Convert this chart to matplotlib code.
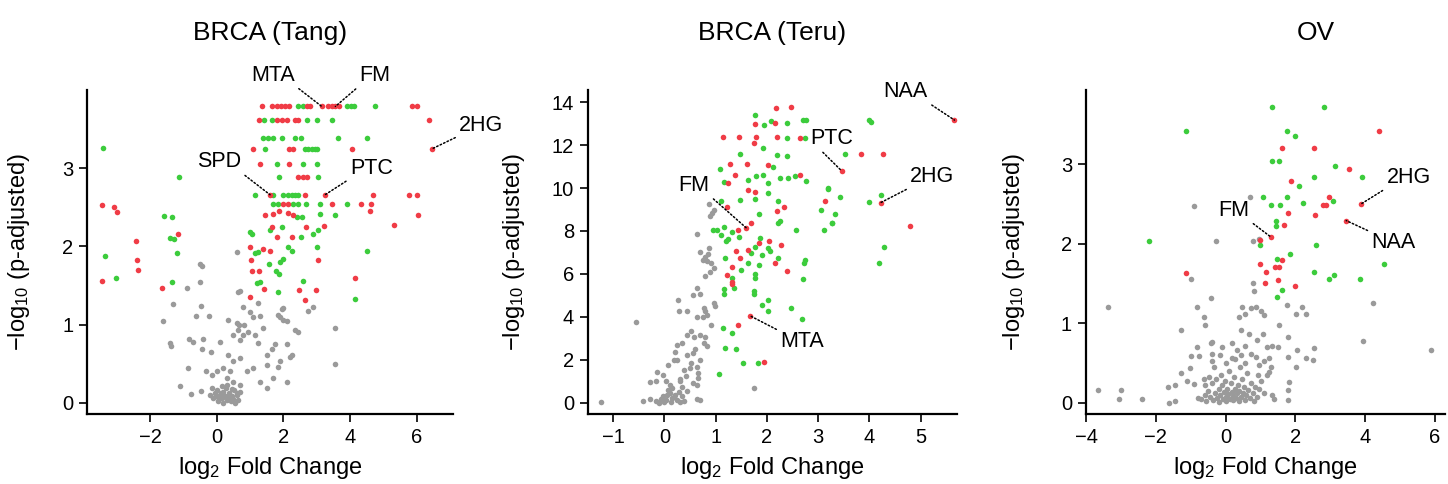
import matplotlib
matplotlib.use("Agg")
import matplotlib.pyplot as plt
import numpy as np

plt.rcParams['font.family'] = ['Liberation Sans', 'DejaVu Sans']
plt.rcParams['mathtext.fontset'] = 'custom'
plt.rcParams['mathtext.rm'] = 'Liberation Sans'
plt.rcParams['mathtext.it'] = 'Liberation Sans:italic'

RED = '#f03c46'
GREEN = '#3ccc3c'
GREY = '#9a9a9a'

# ---------------- BRCA (Tang) ----------------
tang_grey = [(-0.5, 1.78), (-0.45, 1.75), (0.6, 1.93), (-0.5, 1.54), (-0.9, 1.47), (0.65, 1.41), (0.7, 1.43),
             (-1.3, 1.26), (-0.48, 1.24), (0.8, 1.23), (1.0, 1.16), (1.25, 1.27), (-1.62, 1.05), (-0.62, 1.11),
             (-0.22, 1.11), (0.35, 1.06), (0.68, 1.0), (0.82, 1.0), (1.1, 1.1), (1.3, 1.11), (1.85, 1.12),
             (2.0, 1.21), (2.1, 1.04), (2.35, 0.93), (-1.4, 0.76), (-1.38, 0.73), (-0.82, 0.82), (-0.7, 0.77),
             (-0.4, 0.82), (-0.18, 0.65), (-0.45, 0.69), (0.1, 0.78), (0.48, 0.86), (0.65, 0.93), (0.7, 0.8),
             (0.8, 0.87), (0.95, 0.91), (1.15, 0.87), (1.25, 0.76), (1.4, 0.95), (1.5, 0.61), (1.65, 0.69),
             (1.75, 0.75), (2.1, 0.75), (2.25, 0.61), (1.9, 0.53), (1.5, 0.48), (0.35, 0.61), (0.5, 0.53),
             (0.7, 0.57), (0.9, 0.4), (1.1, 0.44), (0.2, 0.44), (0.4, 0.4), (0.0, 0.4), (-0.15, 0.36),
             (-0.85, 0.44), (-0.32, 0.41), (1.3, 0.27), (1.7, 0.31), (2.1, 0.27), (1.5, 0.19), (-1.1, 0.21),
             (-0.77, 0.11), (-0.47, 0.15), (0.3, 0.31), (0.5, 0.27), (0.7, 0.23), (0.3, 0.23),
             (-0.15, 0.19), (-0.05, 0.12), (0.02, 0.16), (0.1, 0.1), (0.15, 0.06), (0.2, 0.14), (0.25, 0.08),
             (0.32, 0.04), (0.38, 0.12), (0.45, 0.08), (0.52, 0.16), (0.6, 0.1), (0.65, 0.04), (-0.1, 0.06),
             (0.05, 0.02), (0.2, 0.0), (0.42, 0.02), (0.55, 0.0), (-0.2, 0.1), (-0.02, 0.08), (0.28, 0.19),
             (0.15, 0.21), (0.7, 0.14), (0.08, 0.05), (0.35, 0.07), (0.5, 0.05), (0.12, 0.13),
             (3.55, 0.95), (3.55, 0.5), (2.75, 1.17), (2.9, 1.23), (1.95, 1.2), (1.9, 1.1), (2.0, 1.06),
             (2.45, 0.9), (2.2, 0.59), (1.85, 0.46), (0.6, 1.02), (0.45, 0.18), (0.6, 0.12)]
tang_green = [(-3.42, 3.26), (-3.34, 1.88), (-3.02, 1.6), (-1.12, 2.89), (-1.58, 2.39), (-1.34, 2.37),
              (-1.4, 2.11), (-1.28, 2.1), (-1.2, 1.92), (-1.35, 1.54),
              (2.45, 3.79), (2.58, 3.79), (3.9, 3.79), (4.02, 3.79), (4.12, 3.79), (4.75, 3.79),
              (1.42, 3.62), (1.65, 3.62), (2.7, 3.62), (3.0, 3.62), (3.45, 3.62),
              (1.4, 3.39), (1.55, 3.39), (1.7, 3.39), (1.95, 3.39), (2.35, 3.39), (2.52, 3.39), (3.65, 3.39),
              (4.52, 3.39),
              (1.45, 3.25), (2.65, 3.25), (2.75, 3.25), (2.85, 3.25), (2.95, 3.25), (3.02, 3.25),
              (1.8, 3.05), (2.6, 3.05), (3.02, 3.05), (1.88, 2.89), (3.05, 2.89),
              (1.15, 2.66), (1.7, 2.66), (2.0, 2.66), (2.15, 2.66), (2.25, 2.66), (2.35, 2.66), (2.45, 2.66),
              (1.7, 2.54), (1.85, 2.54), (2.3, 2.54), (2.45, 2.54), (2.68, 2.54), (3.1, 2.54), (3.9, 2.54),
              (2.4, 2.38), (2.55, 2.38), (3.1, 2.42), (3.55, 2.4), (1.05, 2.16), (1.6, 2.21), (1.95, 2.25),
              (2.9, 2.16), (3.05, 2.21), (2.52, 2.12), (1.15, 1.92), (1.25, 1.93), (2.15, 1.99), (2.25, 1.94),
              (3.0, 1.99), (4.5, 1.94), (1.58, 1.77), (1.78, 1.69), (1.9, 1.8), (1.98, 1.84), (1.88, 1.65),
              (1.2, 1.53), (1.3, 1.55), (1.85, 1.42), (2.6, 1.56), (4.15, 1.33), (1.0, 2.18)]
tang_red = [(-3.45, 2.53), (-3.07, 2.5), (-3.0, 2.44), (-2.42, 2.07), (-2.4, 1.82), (-2.35, 1.7),
            (-3.43, 1.56), (-1.15, 2.16), (-1.65, 1.47),
            (1.37, 3.79), (1.65, 3.79), (1.8, 3.79), (1.92, 3.79), (2.05, 3.79), (2.18, 3.79), (2.7, 3.79),
            (2.8, 3.79), (3.15, 3.79), (3.33, 3.79), (3.45, 3.79), (3.56, 3.79), (3.68, 3.79), (5.86, 3.79),
            (6.0, 3.79),
            (1.27, 3.62), (1.8, 3.62), (1.95, 3.62), (2.1, 3.62), (2.35, 3.62), (2.45, 3.62), (6.36, 3.62),
            (1.1, 3.25), (2.18, 3.25), (2.3, 3.25), (4.05, 3.25), (6.47, 3.25),
            (1.3, 3.05), (2.18, 3.05), (2.45, 2.89), (2.58, 2.89), (2.7, 2.89),
            (1.6, 2.66), (2.65, 2.66), (3.25, 2.66), (4.7, 2.66), (5.78, 2.66), (6.0, 2.66),
            (2.0, 2.54), (2.15, 2.54), (3.45, 2.54), (4.32, 2.54), (4.62, 2.54),
            (1.45, 2.4), (1.7, 2.42), (1.88, 2.45), (2.15, 2.43), (2.3, 2.4), (6.05, 2.4), (5.33, 2.27),
            (4.6, 2.45), (1.65, 2.25), (2.68, 2.25), (3.23, 2.26), (1.8, 2.12), (2.27, 2.12), (1.0, 1.99),
            (1.38, 1.96), (1.6, 1.94), (1.02, 1.82), (1.05, 1.69), (1.28, 1.69), (3.03, 1.82), (1.42, 1.46),
            (2.48, 1.44), (2.98, 1.44), (4.15, 1.6), (2.65, 1.32), (1.0, 1.35)]
# (label, point, text position, anchor of the leader on the text box)
tang_labels = [('MTA', (3.15, 3.79), (1.69, 4.19), (1, 0)),
               ('FM', (3.56, 3.79), (4.75, 4.19), (0, 0)),
               ('2HG', (6.47, 3.25), (7.94, 3.55), (0, 0)),
               ('SPD', (1.6, 2.66), (0.07, 3.08), (1, 0)),
               ('PTC', (3.25, 2.66), (4.64, 3.0), (0, 0))]

# ---------------- BRCA (Teru) ----------------
teru_grey = [(0.89, 8.72), (0.97, 8.98), (0.92, 8.85), (0.87, 9.26), (0.63, 7.85), (0.87, 7.2), (0.8, 6.81),
             (0.75, 6.65), (0.83, 6.61), (0.9, 6.5), (0.96, 6.27), (0.89, 6.11), (0.8, 5.92), (0.63, 5.33),
             (0.56, 5.02), (0.7, 5.05), (0.77, 4.4), (0.8, 4.25), (0.75, 4.01), (0.83, 4.09), (0.97, 4.64),
             (0.98, 4.5), (0.45, 4.28), (0.28, 4.28), (0.63, 3.97), (0.9, 3.63), (0.52, 3.32), (0.45, 3.16),
             (0.57, 3.08), (0.7, 3.16), (0.8, 3.08), (0.77, 2.77), (0.83, 2.62), (0.24, 2.69), (0.35, 2.77),
             (0.21, 2.38), (0.56, 2.31), (0.45, 2.23), (0.18, 1.99), (0.24, 1.99), (0.52, 1.84), (0.63, 1.68),
             (0.07, 1.76), (0.66, 1.37), (0.66, 1.14), (-0.14, 1.45), (-0.03, 1.3), (0.38, 1.5), (0.42, 1.22),
             (-0.28, 0.96), (-0.17, 1.02), (0.04, 0.99), (0.11, 0.83), (0.14, 0.68), (0.07, 0.6), (0.31, 0.99),
             (0.35, 0.75), (0.63, 0.83), (-0.41, 0.09), (-0.28, 0.18), (-0.17, 0.06), (-0.03, 0.29),
             (0.04, 0.13), (0.21, 0.37), (0.24, 0.13), (0.35, 0.29), (0.38, 0.09), (-0.1, 0.0), (0.0, 0.03),
             (0.63, 0.18), (1.74, 0.68), (-0.55, 3.78), (-1.23, 0.02), (0.7, 7.04), (0.85, 6.95), (0.26, 4.79),
             (0.1, 0.45), (0.15, 0.2), (0.28, 0.5), (0.05, 0.35), (-0.06, 0.15), (0.12, 0.05), (0.3, 0.02),
             (0.18, 0.28), (0.45, 0.55), (0.55, 0.9), (0.5, 1.6), (0.69, 0.1), (0.6, 2.5), (0.7, 2.0),
             (0.3, 1.1)]
teru_green = [(1.77, 13.41), (2.09, 13.13), (2.4, 13.02), (2.71, 13.18), (2.77, 13.18), (1.95, 12.94),
              (2.4, 12.35), (2.74, 12.35), (1.93, 11.89), (2.2, 11.54), (2.4, 11.5), (1.47, 11.58),
              (1.08, 10.89), (1.79, 10.54), (1.93, 10.61), (2.12, 10.96), (2.26, 10.46), (2.42, 10.49),
              (2.54, 10.54), (2.77, 10.33), (1.17, 10.27), (1.63, 10.38), (2.02, 10.23), (2.02, 9.76),
              (3.2, 9.96), (1.48, 9.45), (1.77, 9.5), (2.22, 9.4), (1.84, 8.78), (2.22, 8.36), (2.25, 8.45),
              (3.06, 8.98), (2.56, 8.05), (3.11, 8.05), (3.27, 8.36), (1.1, 9.4), (0.94, 8.05), (1.03, 8.05),
              (1.17, 8.2), (1.32, 7.97), (1.25, 7.63), (1.2, 7.55), (1.45, 7.7), (1.1, 7.82), (1.86, 7.66),
              (1.77, 7.27), (2.02, 7.2), (2.06, 7.05), (1.69, 6.96), (1.91, 6.89), (2.22, 6.73), (2.74, 6.64),
              (2.72, 6.5), (1.18, 6.73), (1.64, 6.5), (1.84, 6.42), (1.49, 6.19), (1.77, 6.0), (1.76, 5.8),
              (1.32, 5.83), (1.17, 5.3), (1.17, 5.05), (1.36, 5.33), (1.74, 5.2), (1.74, 5.05), (2.7, 5.77),
              (2.03, 4.79), (1.91, 4.56), (2.03, 4.25), (2.47, 4.4), (2.68, 3.9), (1.15, 3.47), (1.32, 3.24),
              (1.18, 2.54), (1.4, 2.51), (1.53, 1.84), (1.82, 1.84), (1.06, 1.33),
              (3.99, 13.17), (4.03, 13.07), (3.53, 11.58), (3.19, 9.99), (3.42, 9.6), (3.33, 8.8),
              (3.28, 8.36), (3.99, 9.37), (4.22, 9.68), (4.29, 7.24), (4.18, 6.5)]
teru_red = [(2.18, 13.75), (2.48, 13.8), (1.77, 12.97), (2.15, 13.02), (1.15, 12.37), (1.46, 12.37),
            (1.79, 12.37), (2.19, 12.37), (2.64, 12.32), (1.74, 12.09), (1.29, 11.11), (1.61, 11.11),
            (2.02, 11.08), (1.38, 10.61), (2.64, 10.61), (1.24, 10.23), (1.63, 9.91), (1.76, 9.81),
            (2.33, 9.14), (2.19, 8.95), (3.13, 9.4), (1.22, 9.14), (1.43, 8.05), (1.7, 8.36), (1.6, 8.14),
            (1.84, 7.43), (2.05, 7.55), (1.39, 7.07), (1.63, 7.12), (2.28, 7.35), (1.48, 6.73), (2.15, 6.5),
            (1.31, 6.34), (2.4, 6.14), (1.22, 5.95), (1.31, 5.64), (1.32, 5.55), (1.67, 4.05), (1.43, 3.63),
            (1.95, 1.89), (5.66, 13.17), (3.83, 11.58), (4.26, 11.58), (3.46, 10.8), (4.22, 9.32),
            (4.79, 8.25)]
teru_labels = [('NAA', (5.66, 13.17), (4.71, 14.48), (1, 0)),
               ('PTC', (3.46, 10.8), (3.27, 12.33), (0.2, 0)),
               ('2HG', (4.22, 9.32), (5.23, 10.52), (0, 0)),
               ('FM', (1.6, 8.14), (0.58, 10.14), (1, 0)),
               ('MTA', (1.67, 4.05), (2.69, 2.83), (0, 1))]

# ---------------- OV ----------------
ov_grey = [(0.7, 2.59), (-0.27, 2.03), (0.79, 2.03), (0.96, 2.06), (0.79, 1.51), (-0.43, 1.32), (0.82, 1.4),
           (0.48, 1.21), (0.57, 1.12), (0.38, 1.08), (0.72, 1.19), (0.86, 1.21), (1.01, 1.16), (1.1, 1.1),
           (1.75, 1.23), (2.02, 1.12), (2.19, 1.21), (2.3, 1.12), (4.23, 1.26), (-0.63, 1.08), (-0.58, 0.98),
           (1.54, 0.98), (0.43, 0.92), (0.67, 0.87), (1.06, 0.87), (0.91, 0.79), (1.78, 0.83), (3.94, 0.78),
           (5.89, 0.67), (2.54, 0.69), (2.06, 0.67), (2.32, 0.56), (2.5, 0.54), (1.78, 0.58), (2.02, 0.45),
           (1.3, 0.45), (1.25, 0.39), (1.2, 0.35), (1.82, 0.26), (1.78, 0.16), (1.78, 0.03), (1.34, 0.1),
           (1.39, 0.05), (0.96, 0.18), (1.01, 0.28),
           (-0.89, 2.47), (-1.0, 1.56), (-3.36, 1.21), (-0.81, 1.21), (-1.29, 0.91), (-0.82, 0.7),
           (-0.98, 0.59), (-0.77, 0.59), (-1.01, 0.44), (-1.28, 0.37), (-1.1, 0.28), (-0.91, 0.24),
           (-1.44, 0.23), (-1.65, 0.2), (-3.65, 0.16), (-3.0, 0.16), (-3.06, 0.05), (-2.4, 0.05), (-1.63, 0.0),
           (-1.44, 0.02), (-0.79, 0.06), (-0.58, 0.22), (-0.48, 0.33), (-0.39, 0.52), (-0.39, 0.62),
           (-0.43, 0.75),
           (-0.39, 0.77), (-0.1, 0.7), (0.19, 0.75), (0.33, 0.66), (0.43, 0.6), (0.19, 0.56), (0.57, 0.72),
           (0.72, 0.62), (0.86, 0.58), (1.2, 0.7), (1.34, 0.72), (1.49, 0.7), (1.25, 0.56), (1.1, 0.52),
           (0.96, 0.47),
           (-0.7, 0.05), (-0.6, 0.1), (-0.55, 0.02), (-0.5, 0.15), (-0.45, 0.08), (-0.4, 0.25), (-0.35, 0.04),
           (-0.3, 0.12), (-0.28, 0.3), (-0.25, 0.06), (-0.2, 0.18), (-0.18, 0.01), (-0.15, 0.1), (-0.12, 0.35),
           (-0.1, 0.22), (-0.08, 0.05), (-0.05, 0.14), (-0.02, 0.28), (0.0, 0.08), (0.02, 0.02), (0.05, 0.18),
           (0.08, 0.11), (0.1, 0.4), (0.12, 0.05), (0.15, 0.25), (0.18, 0.14), (0.2, 0.03), (0.22, 0.09),
           (0.25, 0.32), (0.28, 0.18), (0.3, 0.06), (0.32, 0.12), (0.35, 0.22), (0.38, 0.02), (0.4, 0.15),
           (0.42, 0.45), (0.45, 0.08), (0.48, 0.3), (0.5, 0.12), (0.52, 0.2), (0.55, 0.04), (0.6, 0.1),
           (0.62, 0.38), (0.65, 0.16), (0.7, 0.06), (0.72, 0.25), (0.78, 0.12), (0.82, 0.02), (0.85, 0.2),
           (0.9, 0.08), (-0.62, 0.3), (-0.32, 0.45), (0.0, 0.5), (0.28, 0.55), (-0.15, 0.6), (0.55, 0.5),
           (0.92, 0.35), (1.1, 0.12)]
ov_green = [(1.34, 3.72), (2.83, 3.72), (1.75, 3.42), (1.99, 3.35), (1.32, 3.04), (1.54, 3.04), (3.13, 2.97),
            (2.55, 2.84), (3.9, 2.84), (2.11, 2.72), (1.08, 2.59), (1.75, 2.59), (1.3, 2.48), (1.55, 2.48),
            (2.21, 2.51), (3.07, 2.53), (1.44, 2.28), (1.44, 2.22), (0.98, 1.98), (2.59, 1.98), (1.86, 1.87),
            (1.47, 1.81), (4.53, 1.75), (2.55, 1.65), (3.12, 1.61), (2.98, 1.55), (3.86, 1.56), (1.61, 1.42),
            (1.47, 1.33), (-1.12, 3.42), (-2.19, 2.03)]
ov_red = [(4.39, 3.42), (1.61, 3.2), (2.54, 3.2), (3.55, 2.94), (1.89, 2.79), (2.98, 2.58), (2.8, 2.48),
          (2.88, 2.48), (3.89, 2.5), (1.79, 2.39), (2.56, 2.36), (1.68, 2.23), (3.46, 2.29), (1.31, 2.08),
          (0.99, 2.05), (1.63, 1.8), (0.99, 1.75), (1.41, 1.71), (1.54, 1.71), (1.17, 1.65), (1.49, 1.54),
          (1.12, 1.51), (2.0, 1.47), (-1.13, 1.63)]
ov_labels = [('2HG', (3.89, 2.5), (5.25, 2.83), (0, 0)),
             ('FM', (1.31, 2.08), (0.24, 2.42), (1, 0)),
             ('NAA', (3.46, 2.29), (4.82, 2.01), (0, 1))]


def draw_panel(ax, title, grey, green, red, labels, xlim, ylim, xticks, yticks, title_x):
    for pts, col in [(grey, GREY), (green, GREEN), (red, RED)]:
        arr = np.array(pts)
        ax.scatter(arr[:, 0], arr[:, 1], s=16, color=col, linewidths=0, zorder=3)

    for name, xy, txt, rel in labels:
        ax.annotate(name, xy=xy, xytext=txt, ha='center', va='center', fontsize=15.5,
                    annotation_clip=False,
                    arrowprops=dict(arrowstyle='-', linestyle=(0, (1, 1.5)), color='black', lw=1.1,
                                    shrinkA=1, shrinkB=0, relpos=rel))

    ax.set_xlim(*xlim)
    ax.set_ylim(*ylim)
    ax.set_xticks(xticks)
    ax.set_yticks(yticks)
    ax.set_xticklabels([str(t).replace('-', '\u2212') for t in xticks])
    ax.set_yticklabels([str(t) for t in yticks])
    for side in ['top', 'right']:
        ax.spines[side].set_visible(False)
    for side in ['left', 'bottom']:
        ax.spines[side].set_linewidth(1.6)
    ax.tick_params(direction='out', length=6, width=1.2, labelsize=14.5, pad=4)
    ax.set_title(title, fontsize=19, pad=36, x=title_x)
    ax.set_xlabel('log$_2$ Fold Change', fontsize=17)
    ax.set_ylabel('\u2212log$_{10}$ (p-adjusted)', fontsize=17)
    ax.xaxis.set_label_coords(0.5, -0.125)


fig = plt.figure(figsize=(14.48, 4.84), dpi=100)
ax1 = fig.add_axes([0.0601, 0.1446, 0.2528, 0.6694])
ax2 = fig.add_axes([0.4061, 0.1446, 0.2548, 0.6694])
ax3 = fig.add_axes([0.7500, 0.1446, 0.2479, 0.6694])

draw_panel(ax1, 'BRCA (Tang)', tang_grey, tang_green, tang_red, tang_labels,
           (-3.89, 7.09), (-0.145, 4.0), [-2, 0, 2, 4, 6], [0, 1, 2, 3], 0.5)
draw_panel(ax2, 'BRCA (Teru)', teru_grey, teru_green, teru_red, teru_labels,
           (-1.49, 5.71), (-0.53, 14.57), [-1, 0, 1, 2, 3, 4, 5], [0, 2, 4, 6, 8, 10, 12, 14], 0.5)
draw_panel(ax3, 'OV', ov_grey, ov_green, ov_red, ov_labels,
           (-4.0, 6.29), (-0.14, 3.93), [-4, -2, 0, 2, 4, 6], [0, 1, 2, 3], 0.64)

ax1.yaxis.set_label_coords(-0.15, 0.5)
ax2.yaxis.set_label_coords(-0.165, 0.5)
ax3.yaxis.set_label_coords(-0.164, 0.5)

fig.savefig('out.png', dpi=100)
